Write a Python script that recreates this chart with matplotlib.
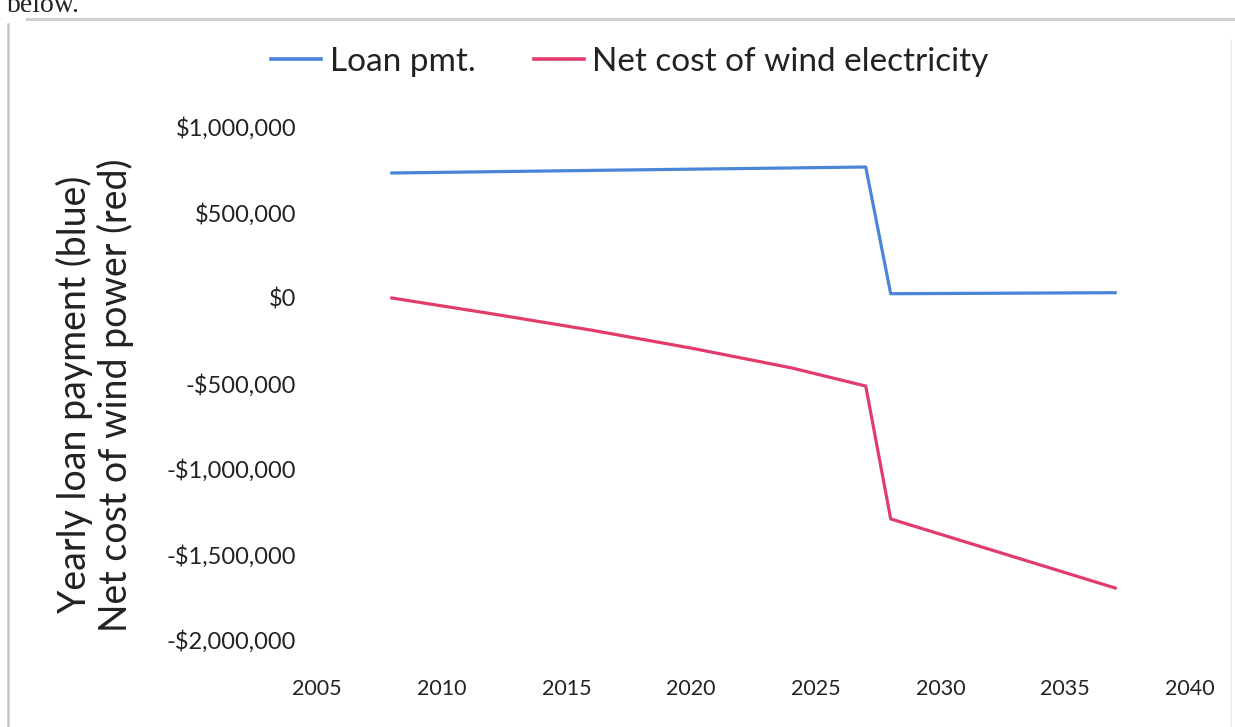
import matplotlib
matplotlib.use('Agg')
import matplotlib.pyplot as plt
from matplotlib.ticker import FuncFormatter
from matplotlib.lines import Line2D

# Yearly loan payment and net cost of wind power
loan_years = [2008, 2017, 2027, 2028, 2037]
loan_pmt = [731000, 748000, 766000, 25000, 31000]

cost_years = [2008, 2012, 2016, 2020, 2024, 2027, 2028, 2037]
net_cost = [0, -92000, -188000, -293000, -408000, -515000, -1292000, -1696000]

x_ticks = [2005, 2010, 2015, 2020, 2025, 2030, 2035, 2040]
y_ticks = [1000000, 500000, 0, -500000, -1000000, -1500000, -2000000]

blue = '#4a86d8'
red = '#e23c6c'
font = 'Lato'

W, H = 1235, 727
fig = plt.figure(figsize=(W / 100, H / 100), dpi=100)
plt.rcParams['font.family'] = [font, 'DejaVu Sans']

ax = fig.add_axes([317 / W, 1 - 640 / H, (1190 - 317) / W, (640 - 127) / H])
ax.plot(loan_years, loan_pmt, color=blue, lw=2.3, label='Loan pmt.')
ax.plot(cost_years, net_cost, color=red, lw=2.3, label='Net cost of wind electricity')

ax.set_xlim(2005, 2040)
ax.set_ylim(-2000000, 1000000)
ax.set_xticks(x_ticks)
ax.set_yticks(y_ticks)


def money(v, pos):
    v = int(round(v))
    if v < 0:
        return '-${:,}'.format(-v)
    return '${:,}'.format(v)


ax.yaxis.set_major_formatter(FuncFormatter(money))
ax.tick_params(axis='both', length=0, colors='#222222')
ax.tick_params(axis='y', pad=15, labelsize=17)
ax.tick_params(axis='x', pad=28, labelsize=15.5)
for s in ax.spines.values():
    s.set_visible(False)

ax.set_ylabel('Yearly loan payment (blue)\nNet cost of wind power (red)',
              fontsize=27, color='#222222', linespacing=1.1)
ax.yaxis.set_label_coords(-0.21, 0.478)

handles = [Line2D([], [], color=blue, lw=2.6), Line2D([], [], color=red, lw=2.6)]
fig.legend(handles, ['Loan pmt.', 'Net cost of wind electricity'],
           loc='center', bbox_to_anchor=(0.51, 1 - 62 / H), ncol=2,
           frameon=False, fontsize=24, handlelength=1.5, handletextpad=0.25,
           columnspacing=1.75, labelcolor='#222222')

# page border around the chart
fig.add_artist(Line2D([27 / W, 1], [1 - 19 / H, 1 - 19 / H], color='#cfcfcf', lw=2.2))
fig.add_artist(Line2D([8 / W, 8 / W], [0, 1 - 24 / H], color='#c4c4d6', lw=1.8))
fig.add_artist(Line2D([1231 / W, 1231 / W], [0, 1 - 40 / H], color='#eeeeee', lw=1.2))

# tail of the preceding sentence on the page
fig.text(7 / W, 1 - 12 / H, 'below.', fontsize=20, family='Liberation Serif',
         color='#222222', va='baseline', ha='left')

fig.savefig('out.png', dpi=100)
